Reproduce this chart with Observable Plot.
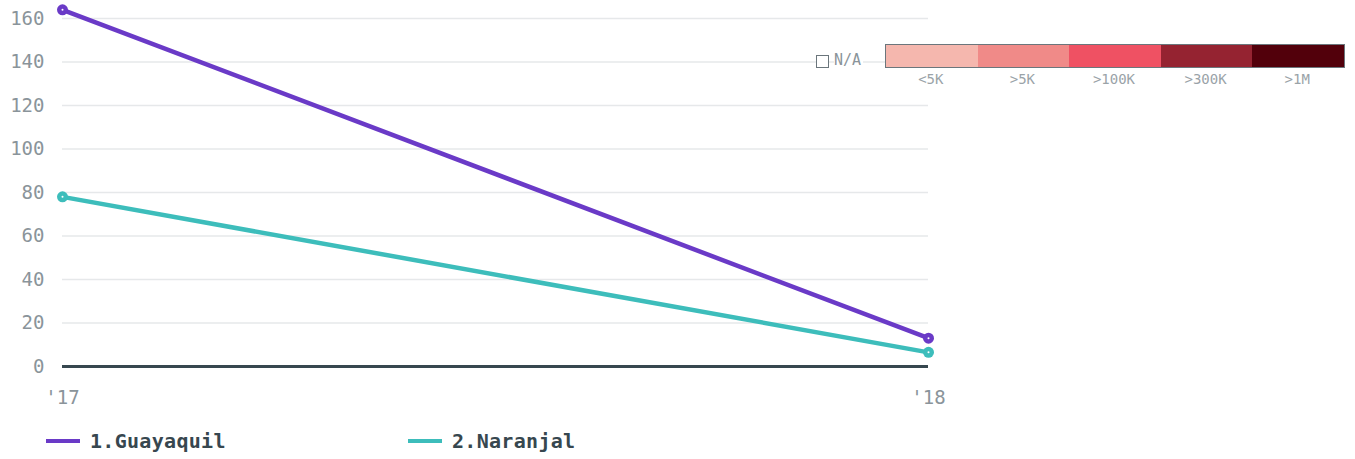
<!DOCTYPE html>
<html><head><meta charset="utf-8">
<script src="https://cdn.jsdelivr.net/npm/d3@7"></script>
<script src="https://cdn.jsdelivr.net/npm/@observablehq/plot@0.6"></script>
<style>
body{margin:0;background:#fff;font-family:"DejaVu Sans Mono",monospace;}
#wrap{position:relative;width:1355px;height:459px;overflow:hidden;}
#legend{position:absolute;left:46px;top:420px;height:41px;display:flex;align-items:center;}
.item{display:flex;align-items:center;font-weight:bold;font-size:20px;color:#37474f;letter-spacing:0.3px;}
.sw{width:34px;height:4px;margin-right:10px;}
#cl{position:absolute;left:0;top:0;}
</style></head>
<body><div id="wrap"><div id="chart"></div><div id="legend"></div><div id="cl"></div></div>
<script>
const years = ["'17", "'18"];
const seriesNames = ["1.Guayaquil", "2.Naranjal"];
const guayaquil = [164, 13];
const naranjal = [78, 6.5];
const seriesColors = ["#6a3ac7", "#3dbdbb"];
const yTicks = [0, 20, 40, 60, 80, 100, 120, 140, 160];
const binLabels = ["<5K", ">5K", ">100K", ">300K", ">1M"];
const binColors = ["#f5b7ae", "#f08a88", "#ef5163", "#952331", "#52000b"];

const rows = [];
[guayaquil, naranjal].forEach((vals, s) => vals.forEach((v, i) => rows.push({year: years[i], value: v, series: seriesNames[s]})));

const chart = Plot.plot({
  width: 1355, height: 420,
  marginLeft: 62, marginRight: 427, marginTop: 18, marginBottom: 54,
  style: {fontFamily: "DejaVu Sans Mono, monospace", fontSize: "19px", color: "#8a949a", overflow: "visible"},
  x: {type: "point", domain: years, padding: 0, label: null, tickSize: 0, tickPadding: 24},
  y: {domain: [0, 160], ticks: yTicks, label: null, tickSize: 0, tickPadding: 18},
  color: {domain: seriesNames, range: seriesColors},
  marks: [
    Plot.gridY(yTicks.filter(d => d > 0), {stroke: "#e6e8ea", strokeOpacity: 1, strokeWidth: 1.5}),
    Plot.ruleY([0], {stroke: "#37474f", strokeWidth: 3}),
    Plot.line(rows, {x: "year", y: "value", z: "series", stroke: "series", strokeWidth: 4.5}),
    Plot.dot(rows, {x: "year", y: "value", fill: "series", r: 5.5}),
    Plot.dot(rows, {x: "year", y: "value", fill: "white", r: 1})
  ]
});
document.getElementById("chart").appendChild(chart);

const lg = document.getElementById("legend");
seriesNames.forEach((n, i) => {
  const it = document.createElement("div");
  it.className = "item";
  it.style.width = i === 0 ? "362px" : "auto";
  it.innerHTML = `<span class="sw" style="background:${seriesColors[i]}"></span><span>${n}</span>`;
  lg.appendChild(it);
});

// color bins legend
const cl = document.getElementById("cl");
const sw = 91.6, x0 = 885, y0 = 44;
let html = `<div style="position:absolute;left:816px;top:55px;width:11px;height:11px;border:1.5px solid #6b767c;background:#fff"></div>`;
html += `<div style="position:absolute;left:834px;top:51px;font-size:15px;color:#8a949a;background:#fff;padding-right:2px">N/A</div>`;
html += `<div style="position:absolute;left:${x0}px;top:${y0}px;width:${sw*5}px;height:22px;border:1.5px solid #6b767c;display:flex">` +
  binColors.map(c => `<div style="flex:1;background:${c}"></div>`).join("") + `</div>`;
binLabels.forEach((l, i) => {
  html += `<div style="position:absolute;left:${x0 + i*sw}px;top:71px;width:${sw}px;text-align:center;font-size:14px;color:#9aa3a8">${l}</div>`;
});
cl.innerHTML = html;
</script></body></html>
